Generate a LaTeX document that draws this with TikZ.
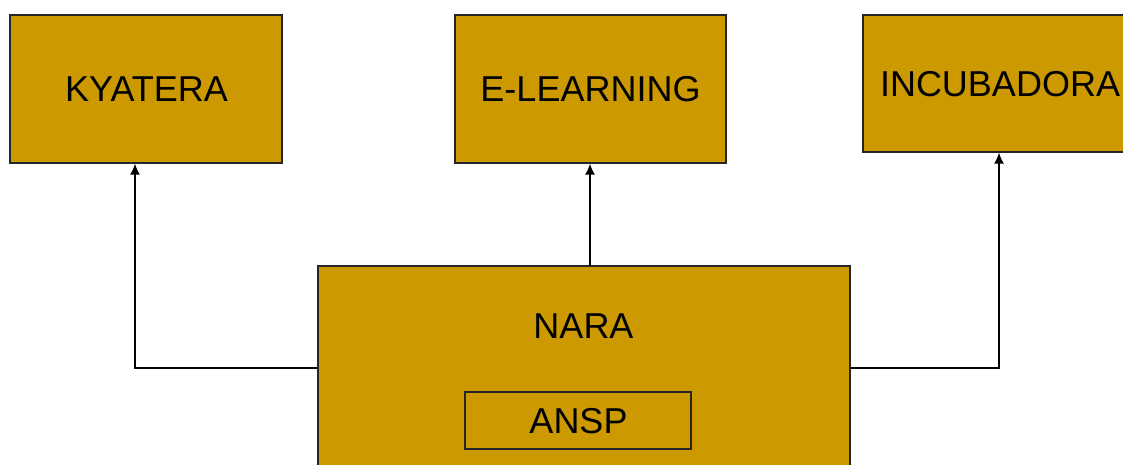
\documentclass[tikz,border=0pt]{standalone}
\usepackage{fontspec}
\setmainfont{Liberation Sans}
\usetikzlibrary{arrows.meta}
\definecolor{gold}{HTML}{CC9900}
\tikzset{
  box/.style={draw=black!85, line width=1.3pt, fill=gold, inner sep=0pt},
  lbl/.style={font=\fontsize{36}{43}\selectfont, text=black, inner sep=0pt},
  conn/.style={draw=black, line width=1.4pt, -{Latex[length=11pt,width=10pt]}},
}
\begin{document}
\begin{tikzpicture}[x=1pt,y=-1pt]
\useasboundingbox (0,0) rectangle (1123,464);
\begin{scope}
\clip (0,0) rectangle (1123,464);
\node[box, minimum width=272pt, minimum height=148pt] (kyatera) at (146,89) {};
\node[lbl] (tk) at (146.5,89) {KYATERA};
\node[box, minimum width=271pt, minimum height=148pt] (elearn) at (590.5,89) {};
\node[lbl] (te) at (590.5,89) {E-LEARNING};
\node[box, minimum width=274pt, minimum height=137pt] (incub) at (1000,83.5) {};
\node[lbl] (ti) at (1000,84) {INCUBADORA};
\node[box, minimum width=532pt, minimum height=230pt] (nara) at (584,381) {};
\node[lbl] (tn) at (583.5,326) {NARA};
\node[box, minimum width=226pt, minimum height=57pt] (ansp) at (578,420.5) {};
\node[lbl] (ta) at (578.5,421) {ANSP};
\coordinate (lc) at (135,368);
\coordinate (mc) at (590,266);
\coordinate (rc) at (999,368);
\draw[conn] (nara.west |- lc) -| (kyatera.south -| lc);
\draw[conn] (mc) -- (elearn.south -| mc);
\draw[conn] (nara.east |- rc) -| (incub.south -| rc);
\end{scope}
\end{tikzpicture}
\end{document}
